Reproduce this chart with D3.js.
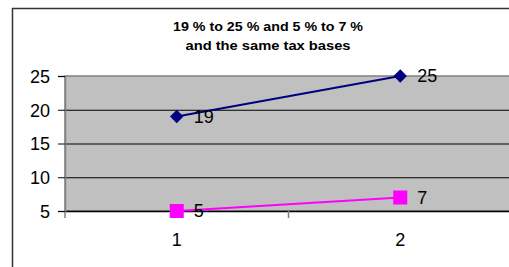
<!DOCTYPE html>
<html>
<head>
<meta charset="utf-8">
<script src="https://cdn.jsdelivr.net/npm/d3@7"></script>
<style>
  html, body { margin: 0; padding: 0; background: #fff; overflow: hidden; }
  svg { display: block; font-family: Arial, "Liberation Sans", sans-serif; }
</style>
</head>
<body>
<div id="chart"></div>
<script>
// chart data
const categories = ["1", "2"];
const series1 = [19, 25];   // navy, diamonds
const series2 = [5, 7];     // magenta, squares
const yTicks = [5, 10, 15, 20, 25];
const titleLines = ["19 % to 25 % and 5 % to 7 %", "and the same tax bases"];

const width = 509, height = 267;
const plot = { left: 65, right: 512, top: 76, bottom: 211 };

const svg = d3.select("#chart").append("svg")
  .attr("width", width)
  .attr("height", height);

// outer chart border (runs off the right and bottom edge)
svg.append("rect")
  .attr("x", 12.5).attr("y", 8.5)
  .attr("width", 520).attr("height", 280)
  .attr("fill", "#fff")
  .attr("stroke", "#333").attr("stroke-width", 1.5);

// title
const titleWidths = [190, 165];
svg.append("g")
  .selectAll("text")
  .data(titleLines)
  .join("text")
    .attr("x", 268)
    .attr("y", (d, i) => 31 + i * 19)
    .attr("text-anchor", "middle")
    .attr("font-size", "13px")
    .attr("font-weight", "bold")
    .attr("textLength", (d, i) => titleWidths[i])
    .attr("lengthAdjust", "spacingAndGlyphs")
    .text(d => d);

const x = d3.scaleBand()
  .domain(categories)
  .range([plot.left, plot.right]);

const y = d3.scaleLinear()
  .domain([5, 25])
  .range([plot.bottom, plot.top]);

// plot area background
svg.append("rect")
  .attr("x", plot.left).attr("y", plot.top)
  .attr("width", plot.right - plot.left).attr("height", plot.bottom - plot.top)
  .attr("fill", "#c0c0c0")
  .attr("stroke", "#808080").attr("stroke-width", 1.5);

// gridlines
svg.append("g")
  .selectAll("line")
  .data(yTicks.filter(d => d > 5 && d < 25))
  .join("line")
    .attr("x1", plot.left).attr("x2", plot.right)
    .attr("y1", d => y(d) + 0.5).attr("y2", d => y(d) + 0.5)
    .attr("stroke", "#000").attr("stroke-width", 1);

// y axis
function yAxis(g) {
  g.attr("transform", `translate(${plot.left},0)`)
    .call(d3.axisLeft(y).tickValues(yTicks).tickSize(7).tickPadding(8))
    .attr("font-size", "18px")
    .attr("font-family", "Arial, 'Liberation Sans', sans-serif");
  g.select(".domain").attr("stroke", "#808080").attr("stroke-width", 1.5);
  g.selectAll(".tick line").attr("stroke", "#000");
  g.selectAll(".tick text").attr("fill", "#000").attr("dy", "0.35em");
}

// x axis
function xAxis(g) {
  g.attr("transform", `translate(0,${plot.bottom})`)
    .call(d3.axisBottom(x).tickSize(0).tickPadding(22))
    .attr("font-size", "18px")
    .attr("font-family", "Arial, 'Liberation Sans', sans-serif");
  g.select(".domain").attr("stroke", "#000").attr("stroke-width", 1.5);
  g.selectAll(".tick text").attr("fill", "#000");
  // category boundary ticks
  g.selectAll(".bound")
    .data(categories.concat(["end"]))
    .join("line")
      .attr("class", "bound")
      .attr("x1", (d, i) => i < categories.length ? x(d) : x(categories[i - 1]) + x.bandwidth())
      .attr("x2", (d, i) => i < categories.length ? x(d) : x(categories[i - 1]) + x.bandwidth())
      .attr("y1", 0).attr("y2", 7)
      .attr("stroke", "#808080").attr("stroke-width", 1.5);
}

svg.append("g").call(xAxis);
svg.append("g").call(yAxis);

const cx = d => x(d) + x.bandwidth() / 2;

const line = d3.line()
  .x((d, i) => cx(categories[i]))
  .y(d => y(d));

// series 1 (navy)
svg.append("path")
  .datum(series1)
  .attr("d", line)
  .attr("fill", "none")
  .attr("stroke", "#000080").attr("stroke-width", 2);

svg.append("g")
  .selectAll("path")
  .data(series1)
  .join("path")
    .attr("d", d3.symbol(d3.symbolSquare, 90))
    .attr("transform", (d, i) => `translate(${cx(categories[i])},${y(d)}) rotate(45)`)
    .attr("fill", "#000080");

// series 2 (magenta)
svg.append("path")
  .datum(series2)
  .attr("d", line)
  .attr("fill", "none")
  .attr("stroke", "#ff00ff").attr("stroke-width", 2);

svg.append("g")
  .selectAll("rect")
  .data(series2)
  .join("rect")
    .attr("x", (d, i) => cx(categories[i]) - 7)
    .attr("y", d => y(d) - 7)
    .attr("width", 14).attr("height", 14)
    .attr("fill", "#ff00ff");

// data labels
const labels = series1.map((v, i) => ({ v, c: categories[i] }))
  .concat(series2.map((v, i) => ({ v, c: categories[i] })));

svg.append("g")
  .selectAll("text")
  .data(labels)
  .join("text")
    .attr("x", d => cx(d.c) + 17)
    .attr("y", d => y(d.v))
    .attr("dy", "0.35em")
    .attr("font-size", "18px")
    .attr("fill", "#000")
    .text(d => d.v);
</script>
</body>
</html>
